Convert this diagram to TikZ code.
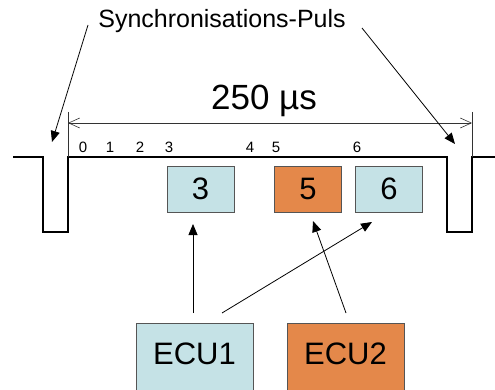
\documentclass[tikz,border=0pt]{standalone}
\usepackage{fontspec}
\setmainfont{Liberation Sans}
\usetikzlibrary{arrows.meta}
\definecolor{lblue}{HTML}{C5E2E6}
\definecolor{orng}{HTML}{E4884A}
\definecolor{bord}{HTML}{555555}
\begin{document}
\begin{tikzpicture}[x=1pt,y=-1pt,
  slotbox/.style={draw=bord,line width=0.9pt,minimum width=67pt,minimum height=46pt,inner sep=0pt,font=\fontsize{31}{31}\selectfont},
  ecubox/.style={draw=bord,line width=0.9pt,minimum width=117pt,minimum height=90pt,inner sep=0pt,anchor=north},
  ecutext/.style={font=\fontsize{31}{31}\selectfont,inner sep=0pt},
  num/.style={font=\fontsize{15}{15}\selectfont,inner sep=0pt},
  arr/.style={line width=0.8pt,-{Triangle[length=11pt,width=9pt]}},
  dim/.style={line width=0.6pt,draw=black!80,{Straight Barb[length=11pt,width=10pt]}-{Straight Barb[length=11pt,width=10pt]}}]
\useasboundingbox (0,0) rectangle (495,390);
\fill[white] (0,0) rectangle (495,390);
% signal
\draw[line width=1.6pt] (13,157) -- (43,157) -- (43,232) -- (68,232) -- (68,157) -- (447,157) -- (447,232) -- (472,232) -- (472,157) -- (495,157);
% dimension
\draw[line width=0.6pt,black!80] (68,112) -- (68,157);
\draw[line width=0.6pt,black!80] (472,112) -- (472,157);
\coordinate (dl) at (68,123);
\coordinate (dr) at (472,123);
\draw[dim] (dl) -- (dr);
\node[font=\fontsize{35}{35}\selectfont,inner sep=0pt] (dur) at (264,101) {250 µs};
% sync label
\node[font=\fontsize{25}{25}\selectfont,inner sep=0pt] (sync) at (222,21) {Synchronisations-Puls};
\coordinate (s1) at (88,25);
\coordinate (p1) at (52,142);
\coordinate (s2) at (362,28);
\coordinate (p2) at (455,144);
\draw[arr] (s1) -- (p1);
\draw[arr] (s2) -- (p2);
% numbers
\node[num] (n0) at (83,147) {0};
\node[num] (n1) at (110,147) {1};
\node[num] (n2) at (140,147) {2};
\node[num] (n3) at (169,147) {3};
\node[num] (n4) at (250,147) {4};
\node[num] (n5) at (276,147) {5};
\node[num] (n6) at (357,147) {6};
% slots
\node[slotbox,fill=lblue] (b3) at (200.5,189) {3};
\node[slotbox,fill=orng] (b5) at (308,189) {5};
\node[slotbox,fill=lblue] (b6) at (389,189) {6};
% ECUs
\node[ecubox,fill=lblue] (ecu1) at (194.5,323) {};
\node[ecutext] (ecu1t) at (194.5,354) {ECU1};
\node[ecubox,fill=orng] (ecu2) at (345.5,323) {};
\node[ecutext] (ecu2t) at (345.5,354) {ECU2};
% connectors
\coordinate (e1a) at (193,313);
\coordinate (e1b) at (222,313);
\coordinate (e2a) at (346,313);
\coordinate (t3) at (193,224);
\coordinate (t6) at (372,222);
\coordinate (t5) at (313,221);
\draw[arr] (e1a) -- (t3);
\draw[arr] (e1b) -- (t6);
\draw[arr] (e2a) -- (t5);
\end{tikzpicture}
\end{document}
